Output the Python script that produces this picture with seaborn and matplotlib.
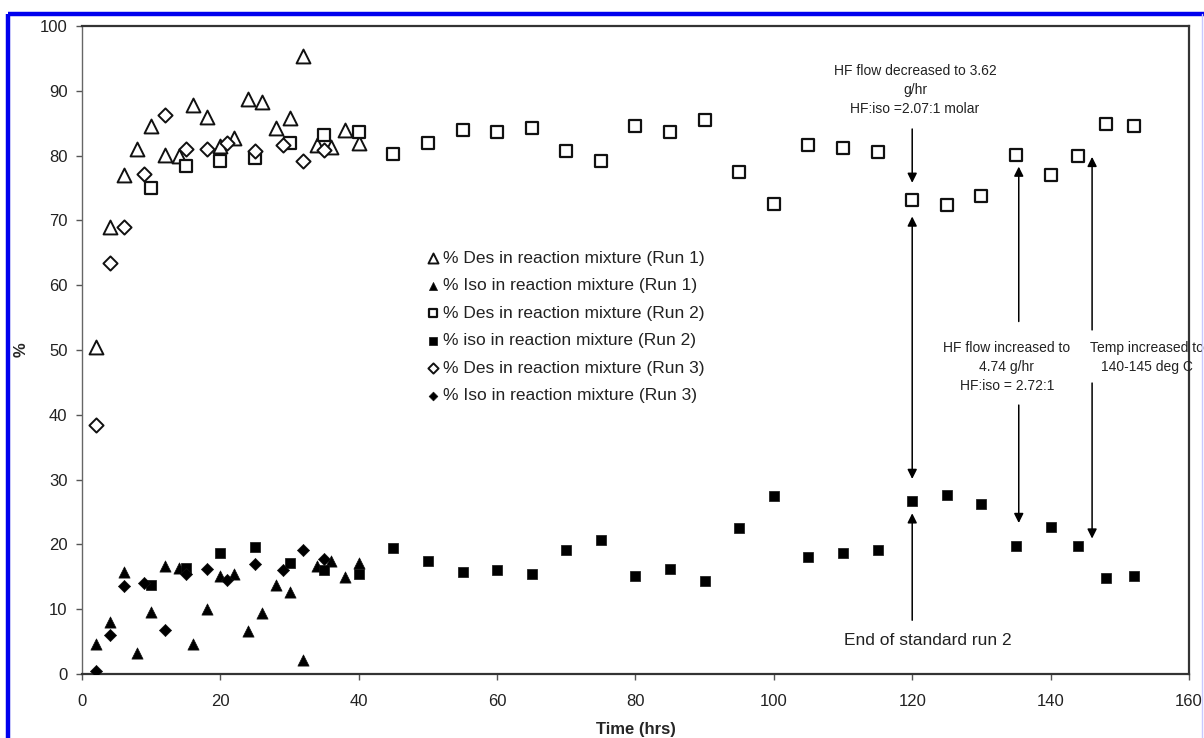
import numpy as np
import pandas as pd
import matplotlib
matplotlib.use('Agg')
import matplotlib.pyplot as plt
import seaborn as sns
from matplotlib.lines import Line2D

# ----- data -----
run1_time = [2, 4, 6, 8, 10, 12, 14, 16, 18, 20, 22, 24, 26, 28, 30, 32, 34, 36, 38, 40]
run1_des = [50.5, 69.0, 77.0, 81.0, 84.6, 80.1, 79.9, 87.8, 86.0, 81.5,
            82.7, 88.7, 88.3, 84.3, 85.8, 95.3, 81.7, 81.4, 84.0, 81.9]
run1_iso = [4.7, 8.1, 15.8, 3.3, 9.6, 16.7, 16.3, 4.6, 10.1, 15.2,
            15.4, 6.6, 9.4, 13.8, 12.6, 2.2, 16.6, 17.4, 14.9, 17.2]

run2_time = [10, 15, 20, 25, 30, 35, 40, 45, 50, 55, 60, 65, 70, 75, 80,
             85, 90, 95, 100, 105, 110, 115, 120, 125, 130, 135, 140, 144, 148, 152]
run2_des = [75.0, 78.4, 79.1, 79.6, 82.0, 83.2, 83.7, 80.2, 82.0, 84.0, 83.6, 84.2, 80.7, 79.1, 84.6,
            83.6, 85.5, 77.4, 72.5, 81.6, 81.1, 80.5, 73.1, 72.3, 73.8, 80.1, 77.0, 79.9, 84.8, 84.5]
run2_iso = [13.7, 16.3, 18.6, 19.6, 17.2, 16.0, 15.5, 19.4, 17.5, 15.7, 16.0, 15.4, 19.1, 20.7, 15.2,
            16.2, 14.4, 22.5, 27.5, 18.1, 18.7, 19.2, 26.7, 27.6, 26.2, 19.8, 22.7, 19.8, 14.8, 15.1]

run3_time = [2, 4, 6, 9, 12, 15, 18, 21, 25, 29, 32, 35]
run3_des = [38.5, 63.4, 69.0, 77.2, 86.2, 81.0, 81.0, 81.9, 80.7, 81.6, 79.2, 80.9]
run3_iso = [0.5, 6.0, 13.6, 14.0, 6.8, 15.4, 16.2, 14.5, 16.9, 16.0, 19.1, 17.7]

labels = ['% Des in reaction mixture (Run 1)',
          '% Iso in reaction mixture (Run 1)',
          '% Des in reaction mixture (Run 2)',
          '% iso in reaction mixture (Run 2)',
          '% Des in reaction mixture (Run 3)',
          '% Iso in reaction mixture (Run 3)']

# ----- style -----
sns.set_style('white')
plt.rcParams['font.family'] = ['Liberation Sans', 'DejaVu Sans']

fig = plt.figure(figsize=(12.04, 7.38), dpi=100)
ax = fig.add_axes([0.0681, 0.0867, 0.9194, 0.8781])

series = [
    (run1_time, run1_des, '^', 'white', 1.4, 100),
    (run1_time, run1_iso, '^', 'black', 0.5, 65),
    (run2_time, run2_des, 's', 'white', 1.6, 80),
    (run2_time, run2_iso, 's', 'black', 0.5, 58),
    (run3_time, run3_des, 'D', 'white', 1.4, 52),
    (run3_time, run3_iso, 'D', 'black', 0.5, 38),
]
for (t, v, m, fc, lw, s), lab in zip(series, labels):
    df = pd.DataFrame({'time': t, 'pct': v})
    sns.scatterplot(data=df, x='time', y='pct', marker=m, s=s, facecolor=fc,
                    edgecolor='#111111', linewidth=lw, ax=ax, label=lab, zorder=3)

ax.set_xlim(0, 160)
ax.set_ylim(0, 100)
ax.set_xticks(np.arange(0, 161, 20))
ax.set_yticks(np.arange(0, 101, 10))
ax.tick_params(axis='x', direction='out', length=4, width=1, color='#555555',
               pad=10.5, labelsize=12, labelcolor='#222222', bottom=True)
ax.tick_params(axis='y', direction='out', length=4, width=1, color='#555555',
               pad=6.5, labelsize=12, labelcolor='#222222', left=True)

for side in ['top', 'right', 'bottom']:
    ax.spines[side].set_color('#333333')
    ax.spines[side].set_linewidth(1.6)
ax.spines['left'].set_color('#666666')
ax.spines['left'].set_linewidth(1.0)

ax.set_xlabel('Time (hrs)', fontsize=12, fontweight='bold', labelpad=9)
ax.set_ylabel('%', fontsize=12, fontweight='bold')
ax.yaxis.set_label_coords(-0.048, 0.5)

# legend
handles, labs = ax.get_legend_handles_labels()
leg = ax.legend(handles, labs, loc='upper left', bbox_to_anchor=(0.298, 0.672),
                frameon=False, fontsize=12.5, handletextpad=0.1, handlelength=1.0,
                labelspacing=0.71, markerscale=0.72, borderpad=0.2)
for t in leg.get_texts():
    t.set_color('#222222')

# annotations
arrow = dict(arrowstyle='-|>', color='black', lw=1.1, mutation_scale=14, shrinkA=0, shrinkB=0)
darrow = dict(arrowstyle='<|-|>', color='black', lw=1.1, mutation_scale=14, shrinkA=0, shrinkB=0)

ax.annotate('', xy=(120, 75.8), xytext=(120, 84.1), arrowprops=arrow)
ax.annotate('', xy=(120, 70.6), xytext=(120, 30.1), arrowprops=darrow)
ax.annotate('', xy=(120, 24.8), xytext=(120, 8.3), arrowprops=arrow)
ax.annotate('', xy=(135.4, 78.3), xytext=(135.4, 54.4), arrowprops=arrow)
ax.annotate('', xy=(135.4, 23.3), xytext=(135.4, 41.5), arrowprops=arrow)
ax.annotate('', xy=(146.0, 79.8), xytext=(146.0, 53.1), arrowprops=arrow)
ax.annotate('', xy=(146.0, 20.9), xytext=(146.0, 44.9), arrowprops=arrow)

note = dict(ha='center', va='center', multialignment='center', color='#222222',
            fontsize=10, linespacing=1.45, clip_on=False)
ax.text(120.4, 90.1, 'HF flow decreased to 3.62\ng/hr\nHF:iso =2.07:1 molar', **note)
ax.text(133.7, 47.4, 'HF flow increased to\n4.74 g/hr\nHF:iso = 2.72:1', **note)
ax.text(153.9, 48.8, 'Temp increased to\n140-145 deg C', **note)
ax.text(122.3, 5.1, 'End of standard run 2', ha='center', va='center',
        fontsize=12.5, color='#222222')

# page frame
fig.add_artist(Line2D([0.0066, 0.0066], [0.0, 0.981], transform=fig.transFigure,
                      color='#0000ee', lw=3.2, solid_capstyle='butt'))
fig.add_artist(Line2D([0.0066, 1.0], [0.981, 0.981], transform=fig.transFigure,
                      color='#0000ee', lw=3.2, solid_capstyle='butt'))
fig.add_artist(Line2D([0.9985, 0.9985], [0.0, 0.981], transform=fig.transFigure,
                      color='#c8c8ff', lw=1.0))

fig.savefig('out.png', dpi=100)
